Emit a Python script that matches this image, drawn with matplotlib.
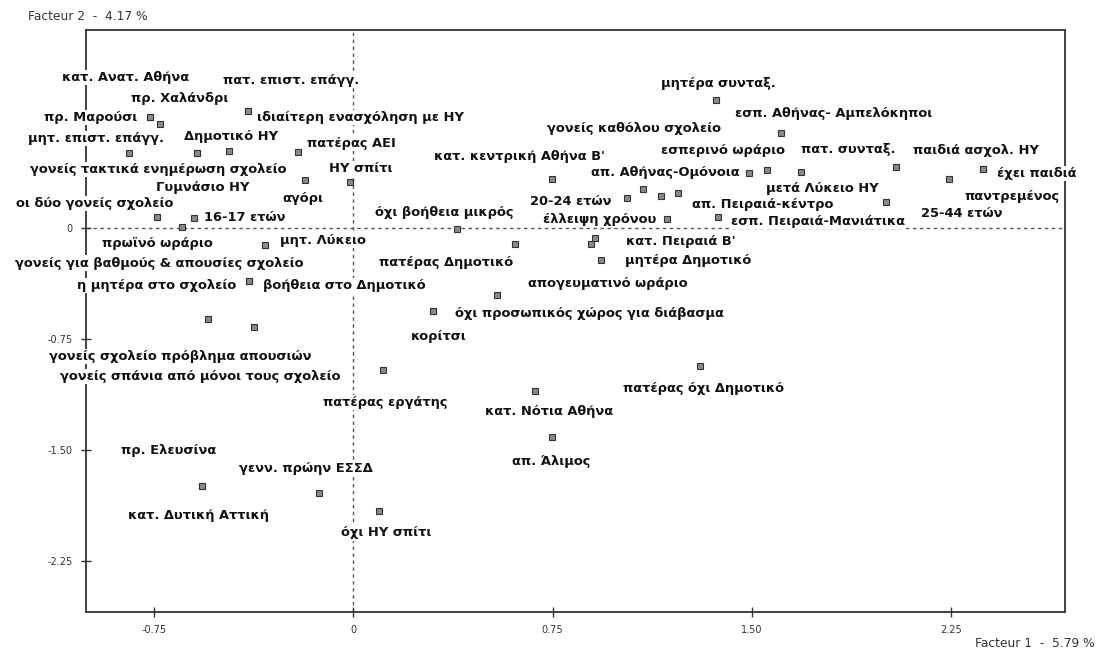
import matplotlib

matplotlib.use("Agg")
import matplotlib.pyplot as plt

# coordinates on the first two factors
labels = [
    "πρ. Μαρούσι", "κατ. Ανατ. Αθήνα", "πρ. Χαλάνδρι",
    "ιδιαίτερη ενασχόληση με ΗΥ", "πατ. επιστ. επάγγ.", "μητ. επιστ. επάγγ.",
    "Δημοτικό ΗΥ", "Γυμνάσιο ΗΥ", "γονείς τακτικά ενημέρωση σχολείο",
    "πατέρας ΑΕΙ", "αγόρι", "ΗΥ σπίτι", "οι δύο γονείς σχολείο",
    "16-17 ετών", "πρωϊνό ωράριο", "μητ. Λύκειο",
    "γονείς για βαθμούς & απουσίες σχολείο", "η μητέρα στο σχολείο",
    "βοήθεια στο Δημοτικό", "γονείς σχολείο πρόβλημα απουσιών",
    "γονείς σπάνια από μόνοι τους σχολείο", "πατέρας εργάτης",
    "όχι προσωπικός χώρος για διάβασμα", "κορίτσι", "απογευματινό ωράριο",
    "πατέρας Δημοτικό", "όχι βοήθεια μικρός", "μητέρα Δημοτικό",
    "κατ. Πειραιά Β'", "", "κατ. Νότια Αθήνα", "πατέρας όχι Δημοτικό",
    "απ. Άλιμος", "πρ. Ελευσίνα", "κατ. Δυτική Αττική", "γενν. πρώην ΕΣΣΔ",
    "όχι ΗΥ σπίτι", "κατ. κεντρική Αθήνα Β'", "μητέρα συνταξ.",
    "εσπ. Αθήνας- Αμπελόκηποι", "απ. Αθήνας-Ομόνοια", "εσπερινό ωράριο",
    "μετά Λύκειο ΗΥ", "πατ. συνταξ.", "έχει παιδιά", "παιδιά ασχολ. ΗΥ",
    "παντρεμένος", "25-44 ετών", "απ. Πειραιά-κέντρο",
    "εσπ. Πειραιά-Μανιάτικα", "έλλειψη χρόνου", "20-24 ετών",
    "γονείς καθόλου σχολείο", "",
]
fact1 = [
    -0.765, -0.765, -0.727, -0.397, -0.397, -0.844,
    -0.589, -0.589, -0.467, -0.208, -0.182, -0.012, -0.740,
    -0.599, -0.643, -0.332, -0.332, -0.391, -0.391, -0.548,
    -0.372, 0.113, 0.301, 0.301, 0.542, 0.608, 0.391, 0.931,
    0.909, 0.894, 0.684, 1.304, 0.746, -0.568, -0.568, -0.128,
    0.097, 0.746, 1.363, 1.608, 1.489, 1.556, 1.684, 2.041,
    2.368, 2.368, 2.242, 2.003, 1.220, 1.373, 1.181, 1.029,
    1.091, 1.157,
]
fact2 = [
    0.750, 0.750, 0.705, 0.795, 0.795, 0.511,
    0.511, 0.511, 0.524, 0.518, 0.326, 0.315, 0.078,
    0.068, 0.011, -0.113, -0.113, -0.354, -0.354, -0.615,
    -0.665, -0.957, -0.557, -0.557, -0.451, -0.108, -0.007, -0.214,
    -0.068, -0.108, -1.097, -0.928, -1.412, -1.741, -1.741, -1.786,
    -1.910, 0.331, 0.867, 0.646, 0.374, 0.391, 0.382, 0.416,
    0.399, 0.399, 0.331, 0.180, 0.236, 0.078, 0.061, 0.207,
    0.264, 0.220,
]
x_ticks = [-0.75, 0, 0.75, 1.50, 2.25]
x_ticklabels = ["-0.75", "0", "0.75", "1.50", "2.25"]
y_ticks = [0, -0.75, -1.50, -2.25]
y_ticklabels = ["0", "-0.75", "-1.50", "-2.25"]
x_title = "Facteur 1  -  5.79 %"
y_title = "Facteur 2  -  4.17 %"

# label placement (pixels from the point, y up) and horizontal anchor
label_offsets = [
    (-13, 0, "right"), (-24, 40, "center"), (20, 25, "center"),
    (9, -7, "left"), (43, 30, "center"), (-33, 14, "center"),
    (34, 16, "center"), (6, -35, "center"), (-71, -19, "center"),
    (9, 8, "left"), (-2, -18, "center"), (11, 13, "center"), (17, 13, "right"),
    (10, 1, "left"), (-25, -17, "center"), (15, 5, "left"),
    (-106, -18, "center"), (-13, -5, "right"),
    (14, -5, "left"), (-27, -37, "center"),
    (-54, -50, "center"), (2, -33, "center"),
    (22, -3, "left"), (5, -26, "center"), (110, 12, "center"),
    (-2, -18, "right"), (-13, 17, "center"), (24, -1, "left"),
    (31, -3, "left"), (0, 0, "center"), (14, -21, "center"), (-77, -23, "left"),
    (0, -24, "center"), (-34, 35, "center"), (-4, -30, "center"), (-13, 24, "center"),
    (7, -22, "center"), (-32, 23, "center"), (3, 16, "center"),
    (53, 19, "center"), (-9, 0, "right"), (-44, 20, "center"),
    (21, -17, "center"), (-48, 17, "center"), (14, -4, "left"), (-7, 19, "center"),
    (63, -17, "center"), (76, -12, "center"), (14, -11, "left"),
    (13, -5, "left"), (-11, 0, "right"), (-15, -4, "right"),
    (-9, 61, "center"), (0, 0, "center"),
]

plt.rcParams["font.family"] = ["DejaVu Sans"]

fig = plt.figure(figsize=(10.98, 6.52), dpi=100)
ax = fig.add_axes([0.0783, 0.0613, 0.8917, 0.8927])
ax.set_xlim(-1.006, 2.678)
ax.set_ylim(-2.593, 1.340)

ax.axhline(0, color="#555555", lw=1, ls=(0, (2.5, 2.5)), zorder=1)
ax.axvline(0, color="#555555", lw=1, ls=(0, (2.5, 2.5)), zorder=1)

ax.plot(fact1, fact2, ls="none", marker="s", ms=4.5, mfc="#8a8a8a",
        mec="#333333", mew=0.8, zorder=3)

for name, x, y, (dx, dy, ha) in zip(labels, fact1, fact2, label_offsets):
    if not name:
        continue
    ax.annotate(name, (x, y), xytext=(dx, dy), textcoords="offset pixels",
                ha=ha, va="center", fontsize=9.4, fontweight="bold",
                color="#111111", zorder=4, annotation_clip=False,
                bbox=dict(boxstyle="square,pad=0.08", fc="white", ec="none"))

for side in ax.spines.values():
    side.set_color("#333333")
    side.set_linewidth(1.3)

ax.set_xticks(x_ticks)
ax.set_xticklabels(x_ticklabels)
ax.set_yticks(y_ticks)
ax.set_yticklabels(y_ticklabels)
ax.tick_params(direction="inout", length=7, width=1, color="#333333",
               labelsize=7, labelcolor="#333333", pad=6)

fig.text(0.0255, 0.975, y_title, ha="left", va="center", fontsize=8.8,
         color="#333333")
fig.text(0.997, 0.0138, x_title, ha="right", va="center", fontsize=8.8,
         color="#333333")

fig.savefig("out.png", dpi=100)
